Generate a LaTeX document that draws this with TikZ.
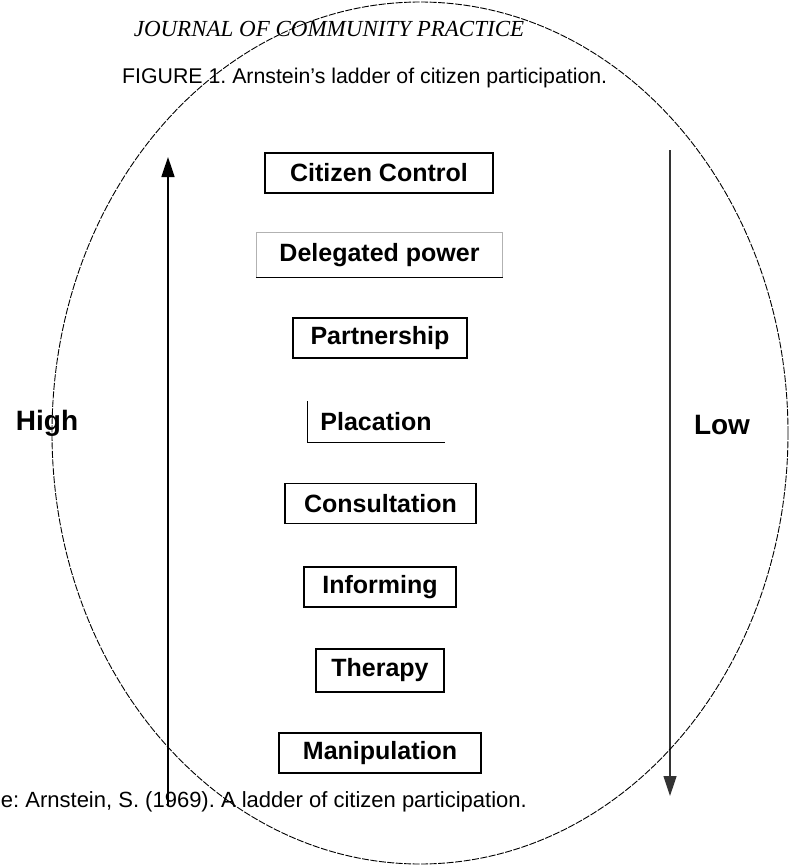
\documentclass[tikz,border=0pt]{standalone}
\usepackage{fontspec}
\setmainfont{Liberation Sans}
\newfontfamily\serifit{Liberation Serif}
\usetikzlibrary{arrows.meta}
\frenchspacing
\begin{document}
\begin{tikzpicture}[x=1pt,y=-1pt,
  rung/.style={draw=black,line width=1.1pt,inner sep=0pt,minimum height=40pt,
    font=\fontsize{25}{28}\selectfont\bfseries},
  side/.style={inner sep=0pt,font=\fontsize{28}{32}\selectfont\bfseries},
  plain/.style={inner sep=0pt,font=\fontsize{21.3}{24}\selectfont},
  ladderarrow/.style={line width=1.6pt,-{Triangle[width=13pt,length=20pt]}},
  oval/.style={line width=0.9pt,dash pattern=on 7pt off 1.5pt}]
\useasboundingbox (0,0) rectangle (789,865);
% titles
\node[inner sep=0pt,anchor=base,font=\serifit\itshape\fontsize{23}{26}\selectfont] (journal) at (329,36) {JOURNAL OF COMMUNITY PRACTICE};
\node[plain,anchor=base west] (fig) at (122,83) {FIGURE 1. Arnstein's ladder of citizen participation.};
% rungs
\node[rung,minimum width=228pt] (cc) at (379,173) {Citizen Control};
\node[rung,draw=none,minimum width=245pt,minimum height=44pt] (dp) at (379.5,255) {Delegated power};
\draw[black!30,line width=0.8pt] (dp.south west) -- (dp.north west) -- (dp.north east) -- (dp.south east);
\draw[line width=1.1pt] (dp.south west) -- (dp.south east);
\node[rung,minimum width=174pt] (pa) at (380,338) {Partnership};
\node[rung,draw=none,minimum width=136pt] (pl) at (376,422) {Placation};
\draw[line width=1.1pt] (pl.north west) -- (pl.south west) -- (pl.south east);
\node[rung,minimum width=191pt] (co) at (380.5,503.5) {Consultation};
\node[rung,minimum width=152pt] (in) at (380,587) {Informing};
\node[rung,minimum width=128pt,minimum height=43pt] (th) at (380,670.5) {Therapy};
\node[rung,minimum width=202pt] (ma) at (380,753) {Manipulation};
% side labels
\node[side] (high) at (47,423) {High};
\node[side] (low) at (722,425) {Low};
% arrows
\coordinate (hb) at (168,806);
\coordinate (ht) at (168,157);
\draw[ladderarrow] (hb) -- (ht);
\coordinate (lt) at (670,150);
\coordinate (lb) at (670,796);
\draw[ladderarrow,line width=1.2pt,draw=black!80] (lt) -- (lb);
% oval
\draw[oval] (420,433) ellipse [x radius=368pt, y radius=431pt];
% source
\node[plain,font=\fontsize{22}{24}\selectfont,anchor=base east] (src) at (527,807) {e: Arnstein, S. (1969). A ladder of citizen participation.};
\end{tikzpicture}
\end{document}
